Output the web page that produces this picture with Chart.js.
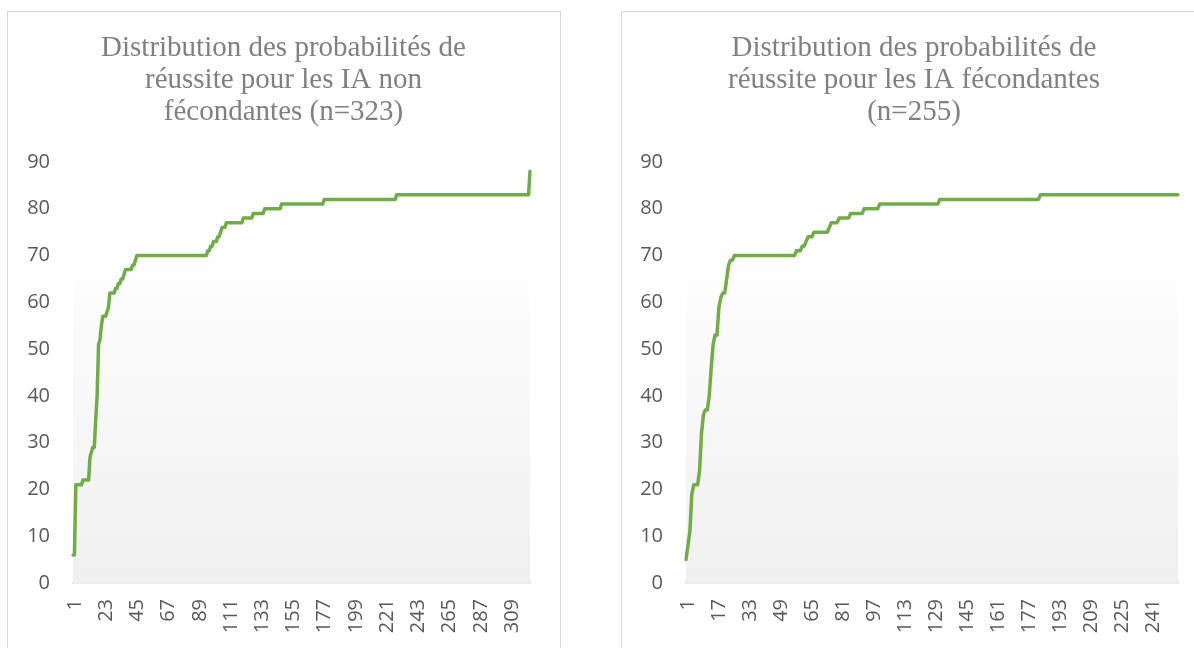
<!DOCTYPE html>
<html lang="fr">
<head>
<meta charset="utf-8">
<script src="https://cdn.jsdelivr.net/npm/chart.js@4.4.1/dist/chart.umd.min.js"></script>
<style>
  html, body { margin: 0; padding: 0; background: #fff; overflow: hidden; }
  body { width: 1194px; height: 648px; position: relative; }
  .frame { position: absolute; top: 11px; border: 1.5px solid #d9d9d9; box-sizing: border-box; }
  #frameLeft { left: 7px; width: 554px; height: 700px; }
  #frameRight { left: 621px; width: 700px; height: 700px; }
  canvas { position: absolute; top: 0; }
  #leftChart { left: 7px; }
  #rightChart { left: 621px; }
</style>
</head>
<body>
<div class="frame" id="frameLeft"></div>
<div class="frame" id="frameRight"></div>
<canvas id="leftChart" width="553" height="648"></canvas>
<canvas id="rightChart" width="586" height="648"></canvas>
<script>
// sorted probabilities, kept as runs: a value and how many IA have it
const leftStepValues = [6, 21, 22, 27, 28, 29, 35, 40, 51, 52, 55, 57, 58, 59, 62, 63, 64, 65, 66, 67, 68, 69,
  70, 71, 72, 73, 74, 75, 76, 77, 78, 79, 80, 81, 82, 83, 88];
const leftStepCounts = [2, 5, 5, 1, 1, 2, 1, 1, 1, 1, 1, 3, 1, 1, 4, 2, 2, 2, 1, 5, 2, 1,
  50, 2, 2, 3, 2, 1, 3, 12, 7, 8, 12, 30, 51, 94, 1];

const rightStepValues = [5, 8, 11, 19, 21, 24, 32, 36, 37, 40, 46, 51, 53, 59, 61, 62, 65, 68, 69,
  70, 71, 72, 73, 74, 75, 76, 77, 78, 79, 80, 81, 82, 83];
const rightStepCounts = [1, 1, 1, 1, 3, 1, 1, 1, 2, 1, 1, 1, 2, 1, 1, 2, 1, 1, 2,
  32, 3, 2, 1, 3, 8, 1, 4, 6, 7, 8, 31, 52, 72];

const leftTitle = ["Distribution des probabilités de", "réussite pour les IA non", "fécondantes (n=323)"];
const rightTitle = ["Distribution des probabilités de", "réussite pour les IA fécondantes", "(n=255)"];

const leftTickStep = 22;
const rightTickStep = 16;
const yMax = 90;
const yStep = 10;

function expandRuns(values, counts) {
  const out = [];
  values.forEach(function (v, i) {
    for (let k = 0; k < counts[i]; k++) out.push(v);
  });
  return out;
}

const plotBackground = {
  id: "plotBackground",
  beforeDatasetsDraw(chart) {
    const { ctx, chartArea } = chart;
    const g = ctx.createLinearGradient(0, chartArea.top, 0, chartArea.bottom);
    g.addColorStop(0, "#ffffff");
    g.addColorStop(0.2, "#ffffff");
    g.addColorStop(1, "#f0f0f0");
    ctx.save();
    ctx.fillStyle = g;
    ctx.fillRect(chartArea.left, chartArea.top, chartArea.right - chartArea.left, chartArea.bottom - chartArea.top);
    ctx.restore();
  },
};

// Excel centres the title over the whole chart box, not the plot
const centerTitle = {
  id: "centerTitle",
  afterLayout(chart) {
    if (chart.titleBlock) {
      chart.titleBlock.left = 0;
      chart.titleBlock.right = chart.width;
    }
  },
};

function renderChart(ctxId, title, data, tickStep, yWidth, padRight) {
  const labels = data.map(function (_, i) { return String(i + 1); });

  new Chart(document.getElementById(ctxId), {
    type: "line",
    data: {
      labels: labels,
      datasets: [{
        data: data,
        borderColor: "#70AD47",
        borderWidth: 3.5,
        pointRadius: 0,
        tension: 0,
        borderJoinStyle: "round",
        borderCapStyle: "round",
        fill: false,
      }],
    },
    options: {
      responsive: false,
      animation: false,
      layout: { padding: { left: 0, right: padRight, top: 0, bottom: 0 } },
      plugins: {
        legend: { display: false },
        tooltip: { enabled: false },
        title: {
          display: true,
          text: title,
          color: "#808080",
          font: { family: "'Liberation Serif', 'Times New Roman', serif", size: 29, weight: "normal", lineHeight: 1.103 },
          padding: { top: 32, bottom: 34 },
        },
      },
      scales: {
        x: {
          grid: { display: false, drawTicks: false },
          border: { display: true, color: "#d9d9d9", width: 1.5 },
          afterFit: function (scale) {
            scale.height = 65;
            scale.paddingLeft = 0;
            scale.paddingRight = 0;
          },
          ticks: {
            autoSkip: false,
            maxRotation: 90,
            minRotation: 90,
            padding: 16,
            labelOffset: 2,
            color: "#595959",
            font: { family: "'Open Sans', sans-serif", size: 20 },
            callback: function (val, idx) { return idx % tickStep === 0 ? labels[idx] : ""; },
          },
        },
        y: {
          min: 0,
          max: yMax,
          grid: { display: false, drawTicks: false },
          border: { display: false },
          afterFit: function (scale) {
            scale.width = yWidth;
            scale.paddingTop = 0;
            scale.paddingBottom = 0;
          },
          ticks: {
            stepSize: yStep,
            padding: 23,
            color: "#595959",
            font: { family: "'Open Sans', sans-serif", size: 20 },
          },
        },
      },
    },
    plugins: [plotBackground, centerTitle],
  });
}

renderChart("leftChart", leftTitle, expandRuns(leftStepValues, leftStepCounts), leftTickStep, 66, 30);
renderChart("rightChart", rightTitle, expandRuns(rightStepValues, rightStepCounts), rightTickStep, 65, 29);
</script>
</body>
</html>
